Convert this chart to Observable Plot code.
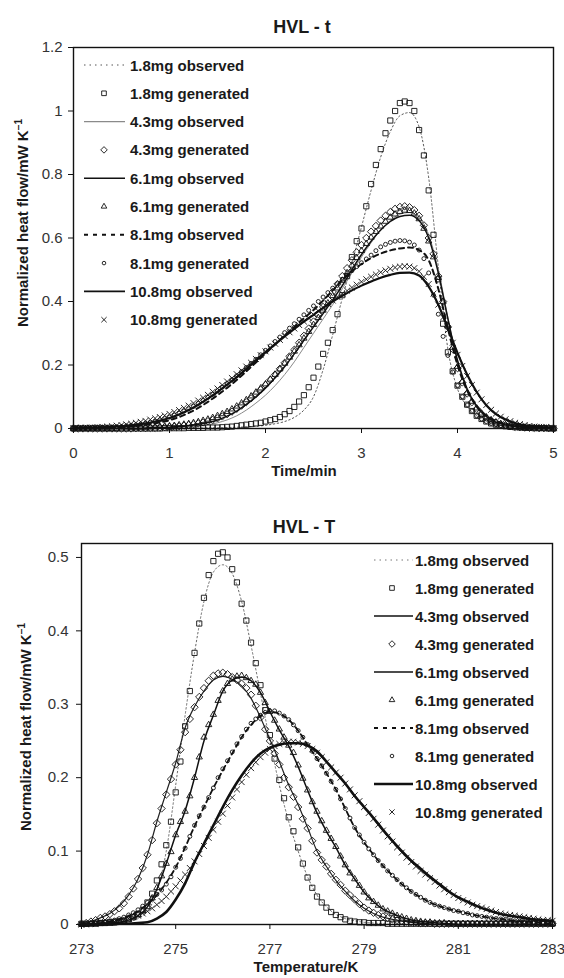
<!DOCTYPE html>
<html><head><meta charset="utf-8">
<script src="https://cdn.jsdelivr.net/npm/d3@7"></script>
<script src="https://cdn.jsdelivr.net/npm/@observablehq/plot@0.6"></script>
<style>
html,body{margin:0;padding:0;background:#fff;}
#root{width:564px;}
#root svg{display:block;}
</style></head><body><div id="root"></div>
<script>
// ---------- legend / tick labels ----------
const legendLabels = ["1.8mg observed","1.8mg generated","4.3mg observed","4.3mg generated","6.1mg observed","6.1mg generated","8.1mg observed","8.1mg generated","10.8mg observed","10.8mg generated"];
const topXTicks = [0,1,2,3,4,5];
const topYTicks = [0,0.2,0.4,0.6,0.8,1,1.2];
const botXTicks = [273,275,277,279,281,283];
const botYTicks = [0,0.1,0.2,0.3,0.4,0.5];

// ---------- HVL - t (time, min) ----------
const timeObs = [0,0.1,0.2,0.3,0.4,0.5,0.6,0.7,0.8,0.9,
1,1.1,1.2,1.3,1.4,1.5,1.6,1.7,1.8,1.9,
2,2.1,2.2,2.3,2.4,2.5,2.6,2.7,2.8,2.9,
3,3.1,3.2,3.3,3.4,3.5,3.6,3.7,3.8,3.9,
4,4.1,4.2,4.3,4.4,4.5,4.6,4.7,4.8,4.9,
5];
const timeGen = [0,0.05,0.1,0.15,0.2,0.25,0.3,0.35,0.4,0.45,
0.5,0.55,0.6,0.65,0.7,0.75,0.8,0.85,0.9,0.95,
1,1.05,1.1,1.15,1.2,1.25,1.3,1.35,1.4,1.45,
1.5,1.55,1.6,1.65,1.7,1.75,1.8,1.85,1.9,1.95,
2,2.05,2.1,2.15,2.2,2.25,2.3,2.35,2.4,2.45,
2.5,2.55,2.6,2.65,2.7,2.75,2.8,2.85,2.9,2.95,
3,3.05,3.1,3.15,3.2,3.25,3.3,3.35,3.4,3.45,
3.5,3.55,3.6,3.65,3.7,3.75,3.8,3.85,3.9,3.95,
4,4.05,4.1,4.15,4.2,4.25,4.3,4.35,4.4,4.45,
4.5,4.55,4.6,4.65,4.7,4.75,4.8,4.85,4.9,4.95,
5];

const tObs18 = [0,0,0,0,0,0,0,0,0,0,
0,0,0.001,0.001,0.002,0.002,0.003,0.004,0.005,0.007,
0.01,0.015,0.022,0.035,0.058,0.1,0.185,0.295,0.41,0.52,
0.635,0.75,0.855,0.935,0.985,0.995,0.95,0.79,0.51,0.25,
0.125,0.07,0.04,0.025,0.015,0.01,0.006,0.004,0.002,0.001,
0];
const tObs43 = [0,0,0,0,0,0,0,0,0,0.001,
0.002,0.003,0.005,0.008,0.012,0.018,0.027,0.04,0.058,0.08,
0.105,0.135,0.17,0.21,0.255,0.3,0.345,0.39,0.44,0.49,
0.54,0.585,0.625,0.655,0.675,0.68,0.665,0.61,0.5,0.35,
0.21,0.12,0.065,0.035,0.018,0.009,0.005,0.003,0.002,0.001,
0];
const tObs61 = [0,0,0,0,0,0,0,0.001,0.002,0.003,
0.004,0.006,0.009,0.013,0.019,0.027,0.039,0.055,0.076,0.1,
0.128,0.16,0.195,0.235,0.278,0.32,0.362,0.405,0.45,0.5,
0.548,0.59,0.625,0.652,0.668,0.672,0.655,0.6,0.49,0.345,
0.215,0.125,0.07,0.038,0.02,0.011,0.006,0.003,0.002,0.001,
0];
const tObs81 = [0,0.001,0.001,0.002,0.003,0.005,0.007,0.01,0.014,0.019,
0.026,0.036,0.049,0.065,0.084,0.105,0.128,0.153,0.18,0.208,
0.236,0.265,0.293,0.32,0.347,0.373,0.403,0.435,0.468,0.495,
0.518,0.537,0.551,0.561,0.567,0.57,0.562,0.53,0.44,0.315,
0.2,0.12,0.07,0.04,0.024,0.014,0.008,0.005,0.003,0.001,
0];
const tObs108 = [0,0.001,0.002,0.003,0.005,0.007,0.01,0.014,0.019,0.025,
0.033,0.044,0.058,0.075,0.094,0.115,0.138,0.162,0.188,0.214,
0.24,0.265,0.29,0.314,0.337,0.358,0.38,0.4,0.418,0.435,
0.45,0.463,0.475,0.484,0.49,0.491,0.482,0.447,0.39,0.315,
0.238,0.17,0.115,0.073,0.045,0.028,0.017,0.01,0.006,0.003,
0.001];

const tGen18 = [0,0,0,0,0,0,0,0,0,0,
0,0,0,0,0,0,0,0,0,0.001,
0.001,0.001,0.001,0.001,0.002,0.002,0.002,0.002,0.003,0.003,
0.003,0.004,0.005,0.006,0.008,0.01,0.012,0.014,0.016,0.018,
0.022,0.026,0.03,0.036,0.045,0.055,0.068,0.085,0.105,0.13,
0.16,0.195,0.235,0.27,0.31,0.36,0.42,0.48,0.54,0.59,
0.63,0.7,0.77,0.83,0.88,0.93,0.97,1.0,1.025,1.03,
1.025,1.0,0.94,0.86,0.75,0.61,0.47,0.33,0.24,0.18,
0.135,0.1,0.075,0.055,0.04,0.03,0.022,0.016,0.012,0.009,
0.007,0.005,0.004,0.003,0.002,0.002,0.001,0.001,0.001,0,
0];
const tGen43 = [0,0,0,0,0,0,0,0,0,0,
0,0,0,0.001,0.001,0.001,0.002,0.002,0.003,0.004,
0.005,0.006,0.007,0.009,0.011,0.013,0.016,0.019,0.023,0.027,
0.032,0.038,0.045,0.053,0.062,0.072,0.083,0.095,0.108,0.122,
0.137,0.153,0.17,0.188,0.207,0.227,0.248,0.27,0.292,0.315,
0.337,0.36,0.383,0.406,0.43,0.455,0.48,0.505,0.53,0.555,
0.578,0.6,0.62,0.638,0.655,0.67,0.682,0.692,0.698,0.7,
0.697,0.688,0.67,0.64,0.6,0.55,0.48,0.4,0.32,0.25,
0.19,0.145,0.11,0.083,0.062,0.046,0.034,0.025,0.018,0.013,
0.01,0.007,0.005,0.004,0.003,0.002,0.002,0.001,0.001,0.001,
0];
const tGen61 = [0,0,0,0,0,0,0,0,0,0,
0.001,0.001,0.002,0.002,0.003,0.003,0.004,0.005,0.006,0.007,
0.008,0.009,0.011,0.013,0.015,0.018,0.021,0.025,0.029,0.034,
0.04,0.046,0.053,0.061,0.07,0.08,0.09,0.102,0.114,0.127,
0.14,0.155,0.17,0.187,0.205,0.224,0.243,0.263,0.284,0.305,
0.327,0.349,0.372,0.395,0.418,0.442,0.466,0.49,0.514,0.538,
0.56,0.582,0.602,0.62,0.637,0.652,0.665,0.675,0.683,0.687,
0.686,0.678,0.66,0.63,0.59,0.54,0.475,0.4,0.325,0.255,
0.195,0.148,0.112,0.085,0.064,0.048,0.036,0.027,0.02,0.015,
0.011,0.008,0.006,0.004,0.003,0.002,0.002,0.001,0.001,0.001,
0];
const tGen81 = [0,0.001,0.001,0.001,0.002,0.002,0.003,0.003,0.004,0.005,
0.006,0.008,0.01,0.012,0.014,0.017,0.02,0.023,0.027,0.031,
0.036,0.042,0.048,0.055,0.062,0.07,0.079,0.088,0.098,0.108,
0.119,0.13,0.142,0.154,0.166,0.179,0.192,0.205,0.218,0.232,
0.246,0.26,0.274,0.288,0.302,0.316,0.33,0.344,0.358,0.372,
0.386,0.4,0.414,0.428,0.442,0.456,0.47,0.484,0.497,0.51,
0.522,0.534,0.546,0.56,0.572,0.58,0.586,0.59,0.592,0.591,
0.587,0.578,0.562,0.535,0.49,0.42,0.36,0.29,0.23,0.178,
0.135,0.1,0.074,0.055,0.04,0.03,0.022,0.016,0.012,0.009,
0.007,0.005,0.004,0.003,0.002,0.002,0.001,0.001,0.001,0,
0];
const tGen108 = [0.001,0.001,0.002,0.002,0.003,0.004,0.005,0.006,0.007,0.009,
0.011,0.013,0.015,0.018,0.021,0.024,0.028,0.032,0.036,0.041,
0.046,0.052,0.058,0.065,0.072,0.08,0.088,0.097,0.106,0.116,
0.126,0.137,0.148,0.159,0.171,0.183,0.195,0.207,0.219,0.231,
0.243,0.255,0.267,0.279,0.291,0.303,0.315,0.326,0.337,0.348,
0.359,0.37,0.381,0.392,0.403,0.414,0.424,0.434,0.444,0.453,
0.462,0.47,0.478,0.485,0.492,0.498,0.503,0.507,0.51,0.511,
0.51,0.505,0.495,0.478,0.455,0.425,0.39,0.35,0.31,0.27,
0.232,0.197,0.165,0.137,0.113,0.092,0.074,0.059,0.047,0.037,
0.029,0.023,0.018,0.014,0.011,0.008,0.006,0.005,0.003,0.002,
0.001];

// ---------- HVL - T (temperature, K) ----------
const tempObs = [273,273.2,273.4,273.6,273.8,274,274.2,274.4,274.6,274.8,
275,275.2,275.4,275.6,275.8,276,276.2,276.4,276.6,276.8,
277,277.2,277.4,277.6,277.8,278,278.2,278.4,278.6,278.8,
279,279.2,279.4,279.6,279.8,280,280.2,280.4,280.6,280.8,
281,281.2,281.4,281.6,281.8,282,282.2,282.4,282.6,282.8,
283];
const tempGen = [273,273.1,273.2,273.3,273.4,273.5,273.6,273.7,273.8,273.9,
274,274.1,274.2,274.3,274.4,274.5,274.6,274.7,274.8,274.9,
275,275.1,275.2,275.3,275.4,275.5,275.6,275.7,275.8,275.9,
276,276.1,276.2,276.3,276.4,276.5,276.6,276.7,276.8,276.9,
277,277.1,277.2,277.3,277.4,277.5,277.6,277.7,277.8,277.9,
278,278.1,278.2,278.3,278.4,278.5,278.6,278.7,278.8,278.9,
279,279.1,279.2,279.3,279.4,279.5,279.6,279.7,279.8,279.9,
280,280.1,280.2,280.3,280.4,280.5,280.6,280.7,280.8,280.9,
281,281.1,281.2,281.3,281.4,281.5,281.6,281.7,281.8,281.9,
282,282.1,282.2,282.3,282.4,282.5,282.6,282.7,282.8,282.9,
283];

const TObs18 = [0,0,0.001,0.001,0.002,0.004,0.008,0.018,0.045,0.1,
0.19,0.285,0.37,0.44,0.48,0.49,0.478,0.44,0.38,0.315,
0.25,0.19,0.14,0.1,0.065,0.04,0.024,0.014,0.008,0.005,
0.003,0.002,0.001,0,0,0,0,0,0,0,
0,0,0,0,0,0,0,0,0,0,
0];
const TObs43 = [0.001,0.004,0.009,0.015,0.025,0.04,0.062,0.095,0.14,0.18,
0.22,0.268,0.297,0.318,0.333,0.338,0.334,0.325,0.308,0.282,
0.252,0.222,0.19,0.163,0.132,0.1,0.079,0.06,0.045,0.032,
0.022,0.015,0.01,0.007,0.005,0.003,0.002,0.001,0,0,
0,0,0,0,0,0,0,0,0,0,
0];
const TObs61 = [0,0,0.001,0.002,0.003,0.006,0.012,0.024,0.048,0.083,
0.122,0.155,0.2,0.25,0.285,0.318,0.333,0.337,0.332,0.316,
0.29,0.265,0.243,0.215,0.183,0.152,0.127,0.105,0.081,0.062,
0.044,0.031,0.021,0.015,0.01,0.006,0.004,0.003,0.002,0.001,
0,0,0,0,0,0,0,0,0,0,
0];
const TObs81 = [0,0.001,0.002,0.004,0.007,0.012,0.018,0.028,0.04,0.057,
0.078,0.105,0.134,0.16,0.186,0.21,0.233,0.255,0.272,0.284,
0.29,0.287,0.279,0.264,0.245,0.226,0.206,0.184,0.158,0.132,
0.112,0.095,0.08,0.067,0.055,0.045,0.037,0.03,0.025,0.021,
0.018,0.015,0.012,0.01,0.008,0.007,0.005,0.004,0.003,0.002,
0.002];
const TObs108 = [0,0,0,0,0.001,0.001,0.002,0.003,0.008,0.017,
0.034,0.056,0.085,0.11,0.135,0.16,0.183,0.203,0.22,0.233,
0.241,0.245,0.247,0.247,0.244,0.236,0.222,0.207,0.192,0.175,
0.16,0.145,0.129,0.114,0.1,0.087,0.076,0.065,0.055,0.045,
0.037,0.031,0.025,0.02,0.016,0.013,0.011,0.009,0.007,0.006,
0.005];

const TGen18 = [0.001,0.001,0.001,0.001,0.002,0.002,0.003,0.003,0.004,0.005,
0.007,0.01,0.014,0.02,0.03,0.042,0.06,0.082,0.108,0.14,
0.18,0.222,0.27,0.318,0.37,0.41,0.445,0.476,0.495,0.505,
0.507,0.5,0.484,0.466,0.437,0.414,0.384,0.356,0.326,0.292,
0.258,0.226,0.197,0.172,0.146,0.127,0.105,0.083,0.064,0.05,
0.038,0.03,0.023,0.017,0.013,0.01,0.007,0.005,0.004,0.003,
0.003,0.002,0.002,0.002,0.002,0.001,0.001,0.001,0.001,0.001,
0.001,0.001,0.001,0.001,0.001,0.001,0.001,0.001,0.001,0.001,
0.001,0.001,0.001,0.001,0.001,0.001,0.001,0.001,0.001,0.001,
0.001,0.001,0.001,0.001,0.001,0.001,0.001,0.001,0.001,0.001,
0.001];
const TGen43 = [0.001,0.002,0.004,0.006,0.009,0.011,0.014,0.018,0.022,0.029,
0.038,0.049,0.062,0.077,0.095,0.115,0.138,0.158,0.177,0.198,
0.218,0.238,0.262,0.28,0.296,0.31,0.322,0.332,0.339,0.342,
0.343,0.341,0.337,0.333,0.328,0.322,0.313,0.298,0.282,0.266,
0.25,0.233,0.218,0.2,0.187,0.174,0.16,0.144,0.131,0.114,
0.098,0.088,0.079,0.069,0.061,0.054,0.046,0.04,0.034,0.028,
0.023,0.019,0.016,0.013,0.011,0.009,0.007,0.006,0.005,0.004,
0.003,0.003,0.002,0.002,0.002,0.001,0.001,0.001,0.001,0.001,
0.001,0.001,0.001,0.001,0.001,0.001,0.001,0.001,0.001,0.001,
0.001,0.001,0.001,0.001,0.001,0.001,0.001,0.001,0.001,0.001,
0.001];
const TGen61 = [0,0,0.001,0.001,0.001,0.002,0.002,0.003,0.004,0.005,
0.007,0.01,0.013,0.018,0.024,0.036,0.05,0.066,0.083,0.099,
0.122,0.14,0.154,0.175,0.2,0.228,0.255,0.272,0.286,0.305,
0.318,0.328,0.334,0.338,0.339,0.336,0.332,0.327,0.316,0.302,
0.29,0.278,0.266,0.255,0.244,0.234,0.217,0.199,0.183,0.167,
0.154,0.141,0.128,0.117,0.106,0.093,0.081,0.07,0.062,0.053,
0.044,0.036,0.031,0.026,0.021,0.018,0.015,0.012,0.01,0.008,
0.006,0.005,0.004,0.003,0.003,0.002,0.002,0.002,0.001,0.001,
0.001,0.001,0.001,0.001,0.001,0.001,0.001,0.001,0.001,0.001,
0.001,0.001,0.001,0.001,0.001,0.001,0.001,0.001,0.001,0.001,
0.001];
const TGen81 = [0.001,0.001,0.002,0.002,0.003,0.004,0.005,0.006,0.008,0.01,
0.013,0.016,0.02,0.025,0.03,0.035,0.041,0.047,0.055,0.065,
0.078,0.09,0.104,0.12,0.135,0.148,0.16,0.173,0.186,0.2,
0.212,0.223,0.235,0.246,0.256,0.266,0.274,0.28,0.285,0.289,
0.291,0.291,0.288,0.284,0.279,0.272,0.264,0.255,0.245,0.236,
0.226,0.216,0.206,0.195,0.184,0.171,0.158,0.145,0.132,0.122,
0.112,0.103,0.095,0.087,0.08,0.073,0.067,0.061,0.055,0.05,
0.045,0.041,0.037,0.033,0.03,0.027,0.025,0.023,0.021,0.019,
0.018,0.016,0.015,0.013,0.012,0.011,0.01,0.009,0.008,0.0075,
0.007,0.006,0.005,0.0045,0.004,0.0035,0.003,0.0025,0.002,0.002,
0.002];
const TGen108 = [0,0,0.001,0.001,0.002,0.002,0.003,0.004,0.005,0.006,
0.008,0.01,0.012,0.015,0.018,0.022,0.027,0.032,0.038,0.045,
0.052,0.06,0.068,0.077,0.086,0.096,0.107,0.118,0.129,0.14,
0.151,0.162,0.173,0.184,0.194,0.204,0.213,0.221,0.228,0.234,
0.239,0.243,0.246,0.248,0.249,0.249,0.248,0.246,0.243,0.239,
0.234,0.228,0.221,0.214,0.207,0.2,0.192,0.184,0.176,0.168,
0.16,0.152,0.144,0.136,0.128,0.12,0.113,0.105,0.098,0.091,
0.085,0.079,0.073,0.068,0.063,0.058,0.053,0.048,0.044,0.04,
0.036,0.033,0.03,0.027,0.025,0.023,0.021,0.019,0.017,0.015,
0.014,0.013,0.012,0.011,0.01,0.009,0.008,0.007,0.006,0.006,
0.005];

// ---------- styles ----------
const FONT = '"Liberation Sans", Arial, Helvetica, sans-serif';
const TEXT = "#1a1a1a";
const symbolStyles = [
  {symbol:"square2", r:3.3},
  {symbol:"diamond2", r:3.3},
  {symbol:"triangle2", r:3.0},
  {symbol:"circle", r:2.0},
  {symbol:"times", r:2.8}
];
const topLineStyles = [
  {stroke:"#555", width:1, dash:"1.5,2.5"},
  {stroke:"#8a8a8a", width:1},
  {stroke:"#111", width:1.5},
  {stroke:"#111", width:2, dash:"5,4"},
  {stroke:"#111", width:2.2}
];
const botLineStyles = [
  {stroke:"#666", width:1, dash:"1.5,2.5"},
  {stroke:"#222", width:1.2},
  {stroke:"#111", width:1.5},
  {stroke:"#111", width:1.8, dash:"5,4"},
  {stroke:"#111", width:2.6}
];
const legendLineStyles = {
  top: [
    {stroke:"#555", width:1, dash:"1.5,4"},
    {stroke:"#8a8a8a", width:1.2},
    {stroke:"#111", width:1.6},
    {stroke:"#111", width:2, dash:"4,5"},
    {stroke:"#111", width:1.8}
  ],
  bottom: [
    {stroke:"#777", width:1, dash:"1.5,4"},
    {stroke:"#111", width:1.5},
    {stroke:"#111", width:1.5},
    {stroke:"#111", width:2, dash:"4,5"},
    {stroke:"#111", width:2.5}
  ]
};

function rows(xs, ys){ return xs.map((x,i)=>({x, y: ys[i]})); }

const d3Sym = {
  square2: d3.symbolSquare2 || d3.symbolSquare,
  diamond2: d3.symbolDiamond2 || d3.symbolDiamond,
  triangle2: d3.symbolTriangle2 || d3.symbolTriangle,
  circle: d3.symbolCircle,
  times: d3.symbolTimes || d3.symbolCross
};

function makeChart(cfg){
  const marks = [];
  cfg.obs.forEach((ys,k)=>{
    const st = cfg.lineStyles[k];
    marks.push(Plot.line(rows(cfg.xObs, ys), {x:"x", y:"y", curve:"monotone-x", stroke:st.stroke, strokeWidth:st.width, strokeDasharray:st.dash || null}));
  });
  cfg.gen.forEach((ys,k)=>{
    const sy = symbolStyles[k];
    marks.push(Plot.dot(rows(cfg.xGen, ys), {x:"x", y:"y", symbol:sy.symbol, r:sy.r, stroke:"#111", strokeWidth:0.9, fill:"none"}));
  });
  marks.push(Plot.frame({stroke:"#111", strokeWidth:1.4}));
  marks.push(Plot.axisX({ticks:cfg.xTicks, tickSize:5, tickPadding:14, tickFormat:d=>String(d), fontSize:15, stroke:"#111", fill:"#333", label:null}));
  marks.push(Plot.axisY({ticks:cfg.yTicks, tickSize:5, tickPadding:cfg.yPad, tickFormat:d=>String(d), fontSize:15, stroke:"#111", fill:"#333", label:null}));
  const svg = Plot.plot({
    width:564, height:cfg.height,
    marginLeft:cfg.m[0], marginRight:cfg.m[1], marginTop:cfg.m[2], marginBottom:cfg.m[3],
    x:{domain:cfg.xDomain, label:null},
    y:{domain:cfg.yDomain, label:null},
    style:{fontFamily:FONT, fontSize:"15px", background:"#fff", color:TEXT, overflow:"visible"},
    marks
  });
  const s = d3.select(svg);
  s.append("text").attr("x", cfg.title[1]).attr("y", cfg.title[2]).attr("text-anchor","middle")
    .attr("font-family", FONT).attr("font-weight","bold").attr("font-size",18).attr("fill",TEXT).text(cfg.title[0]);
  s.append("text").attr("x", cfg.xTitle[1]).attr("y", cfg.xTitle[2]).attr("text-anchor","middle")
    .attr("font-family", FONT).attr("font-weight","bold").attr("font-size",15).attr("fill",TEXT).text(cfg.xTitle[0]);
  const yt = s.append("text").attr("transform", `translate(${cfg.yTitle[0]},${cfg.yTitle[1]}) rotate(-90)`)
    .attr("text-anchor","middle").attr("font-family", FONT).attr("font-weight","bold").attr("font-size",15).attr("fill",TEXT);
  yt.append("tspan").text("Normalized heat flow/mW K");
  yt.append("tspan").attr("dy",-6).attr("font-size",10).text("\u22121");
  // legend
  const L = cfg.legend;
  const g = s.append("g").attr("text-anchor","start");
  legendLabels.forEach((lab,i)=>{
    const cy = L.y0 + i*L.dy;
    const k = Math.floor(i/2);
    if (i % 2 === 0) {
      const st = L.lines[k];
      g.append("line").attr("x1",L.x1).attr("x2",L.x2).attr("y1",cy).attr("y2",cy)
        .attr("stroke",st.stroke).attr("stroke-width",st.width).attr("stroke-dasharray",st.dash || null);
    } else {
      const sy = symbolStyles[k];
      g.append("path").attr("transform",`translate(${L.mx},${cy})`)
        .attr("d", d3.symbol(d3Sym[sy.symbol], Math.PI*sy.r*sy.r*0.8)())
        .attr("fill","none").attr("stroke","#111").attr("stroke-width",0.9);
    }
    g.append("text").attr("x",L.tx).attr("y",cy+5.5).attr("text-anchor","start").attr("font-family",FONT).attr("font-weight","bold")
      .attr("font-size",15).attr("fill",TEXT).text(lab);
  });
  return svg;
}

const root = document.getElementById("root");
root.appendChild(makeChart({
  height:490, m:[73,11,47,62],
  xDomain:[0,5], yDomain:[0,1.2], xTicks:topXTicks, yTicks:topYTicks, yPad:6,
  xObs:timeObs, xGen:timeGen,
  obs:[tObs18,tObs43,tObs61,tObs81,tObs108],
  gen:[tGen18,tGen43,tGen61,tGen81,tGen108],
  lineStyles:topLineStyles,
  title:["HVL - t",302,33], xTitle:["Time/min",304,476], yTitle:[27.5,223],
  legend:{y0:65, dy:28.3, x1:84, x2:125, mx:104, tx:130, lines:legendLineStyles.top}
}));
root.appendChild(makeChart({
  height:488, m:[81,12,53,54],
  xDomain:[273,283], yDomain:[0,0.519], xTicks:botXTicks, yTicks:botYTicks, yPad:8,
  xObs:tempObs, xGen:tempGen,
  obs:[TObs18,TObs43,TObs61,TObs81,TObs108],
  gen:[TGen18,TGen43,TGen61,TGen81,TGen108],
  lineStyles:botLineStyles,
  title:["HVL - T",304,43], xTitle:["Temperature/K",306,482], yTitle:[30.5,237],
  legend:{y0:70, dy:28, x1:374, x2:413, mx:392, tx:415, lines:legendLineStyles.bottom}
}));
</script></body></html>
